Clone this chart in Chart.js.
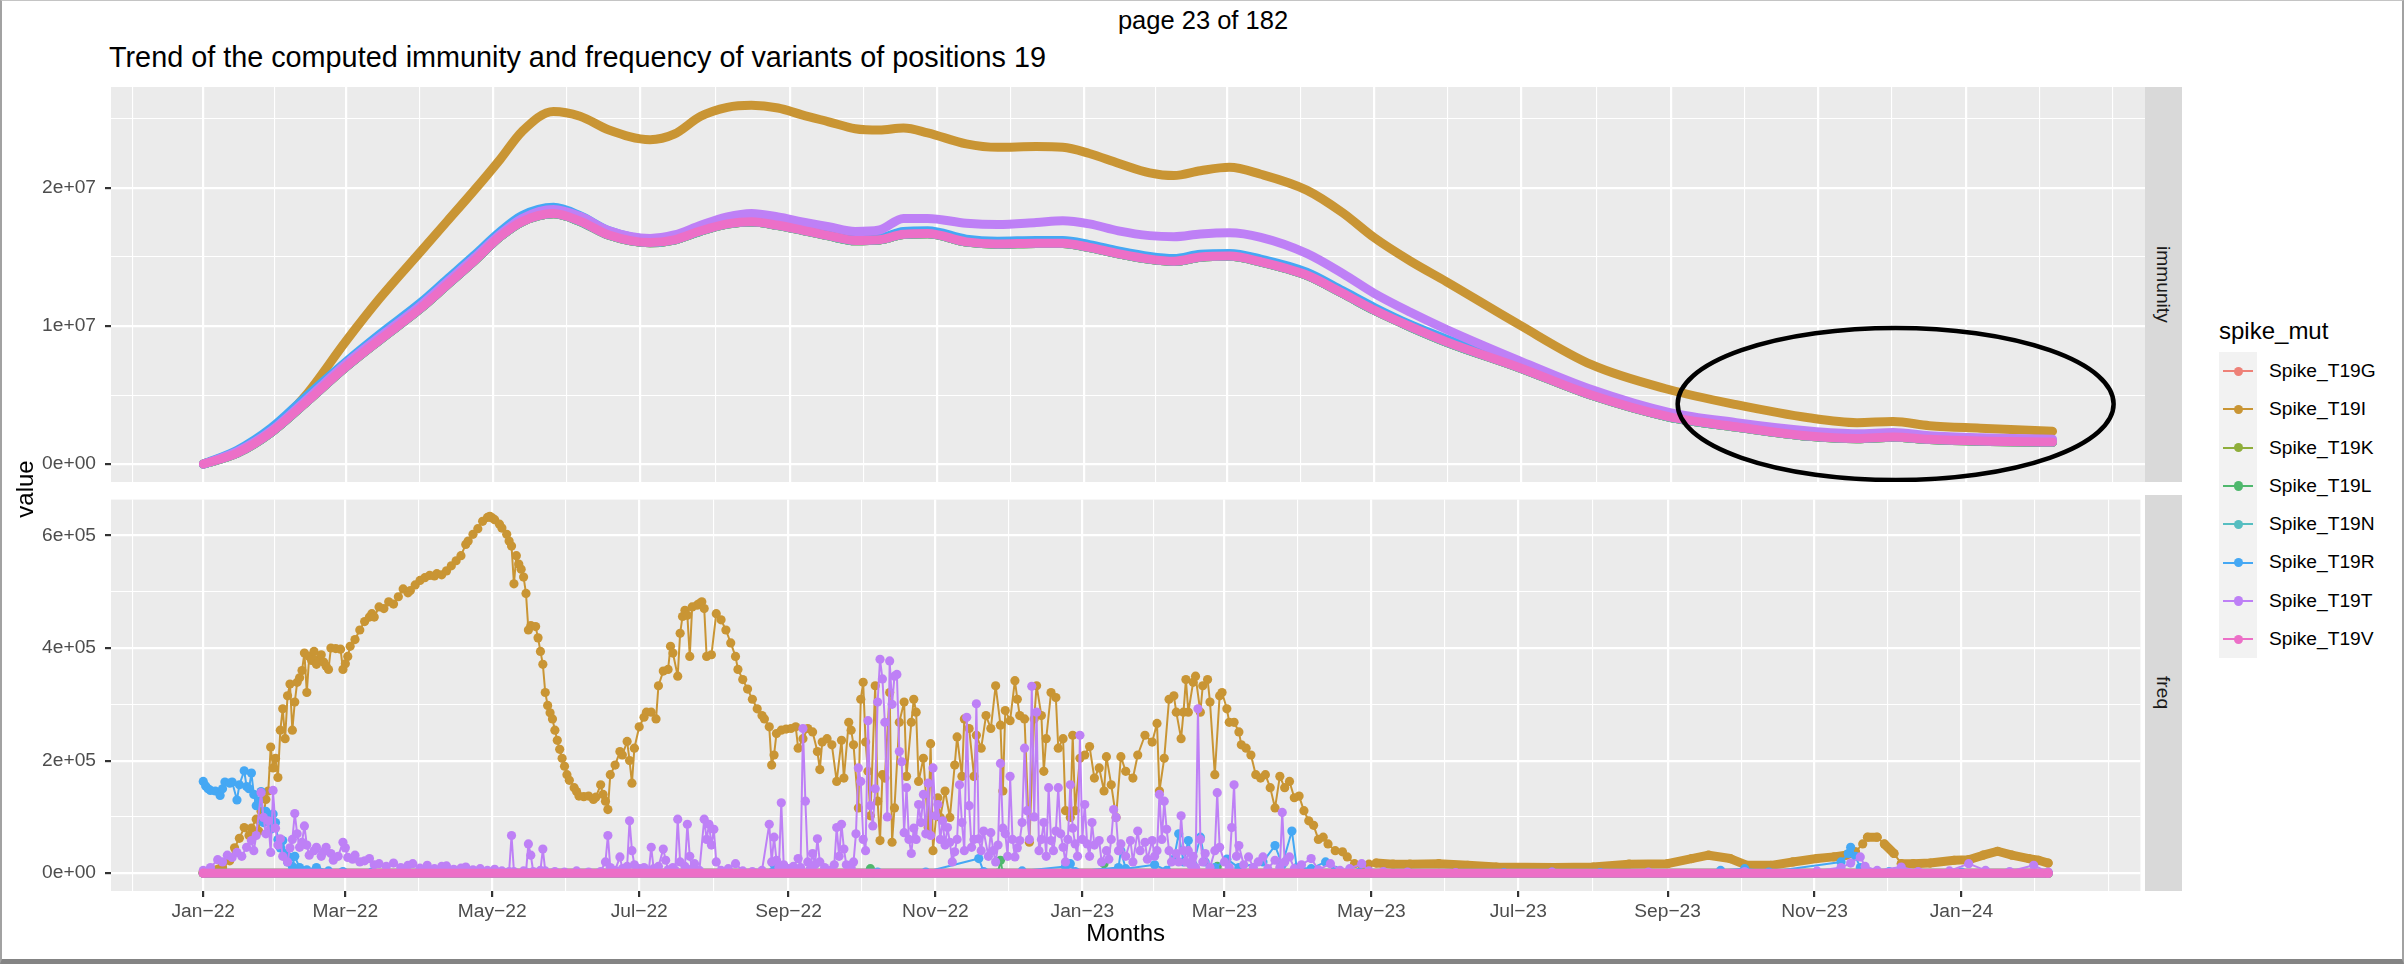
<!DOCTYPE html>
<html>
<head>
<meta charset="utf-8">
<script src="https://cdn.jsdelivr.net/npm/chart.js@4.4.1/dist/chart.umd.min.js"></script>
<style>
  html, body { margin: 0; padding: 0; background: #fff; }
  #page { position: relative; width: 2404px; height: 964px; overflow: hidden; background: #fff;
          font-family: "Liberation Sans", Arial, Helvetica, sans-serif; color: #000; }
  .txt { position: absolute; white-space: nowrap; line-height: 1; }
  canvas { position: absolute; left: 0; }
  .strip { position: absolute; left: 2145px; width: 37px; background: #D9D9D9; display: flex;
           align-items: center; justify-content: center; }
  .strip span { writing-mode: vertical-rl; font-size: 19.2px; color: #1A1A1A; line-height: 1; }
  #legend { position: absolute; left: 2219px; top: 352px; }
  .lrow { height: 38.3px; position: relative; }
  .lkey { position: absolute; left: 0; top: 0; width: 38.3px; height: 38.3px; background: #F2F2F2; }
  .lline { position: absolute; left: 4px; top: 18.2px; width: 30px; height: 2px; }
  .ldot { position: absolute; left: 14.5px; top: 14.5px; width: 9.4px; height: 9.4px; border-radius: 50%; }
  .ltxt { position: absolute; left: 50px; top: 0; line-height: 38.3px; font-size: 19.2px; white-space: nowrap; }
  #frame { position: absolute; left: 0; top: 0; width: 2404px; height: 964px; box-sizing: border-box;
           border-left: 2px solid #a2a2a2; border-top: 1px solid #c4c4c4; border-right: 2px solid #a2a2a2;
           border-bottom: 5px solid #848484; pointer-events: none; }
</style>
</head>
<body>
<div id="page">
  <div class="txt" style="left:1203px; top:8px; font-size:25.5px; transform:translateX(-50%);">page 23 of 182</div>
  <div class="txt" style="left:109px; top:43px; font-size:28.8px;">Trend of the computed immunity and frequency of variants of positions 19</div>
  <canvas id="cImm" width="2145" height="395" style="top:87px"></canvas>
  <canvas id="cFreq" width="2145" height="456" style="top:495px"></canvas>
  <div class="strip" style="top:87px; height:395px;"><span>immunity</span></div>
  <div class="strip" style="top:495px; height:396px;"><span>freq</span></div>
  <div class="txt" style="left:25px; top:489px; font-size:24px; writing-mode:vertical-rl; transform:translate(-50%,-50%) rotate(180deg);">value</div>
  <div class="txt" style="left:2219px; top:319px; font-size:24px;">spike_mut</div>
  <div id="legend"></div>
  <div id="frame"></div>
</div>
<script>
/* ---------------- data (days counted from 2022-01-01) ---------------- */

const variants = ["Spike_T19G", "Spike_T19I", "Spike_T19K", "Spike_T19L",
                  "Spike_T19N", "Spike_T19R", "Spike_T19T", "Spike_T19V"];
const colors = ["#EE8178", "#C99534", "#8FAE3B", "#4FB86D",
                "#56BEC1", "#45A8F4", "#BE80F6", "#EC6FC7"];

const xTickDates = ["2022-01-01", "2022-03-01", "2022-05-01", "2022-07-01", "2022-09-01", "2022-11-01",
                    "2023-01-01", "2023-03-01", "2023-05-01", "2023-07-01", "2023-09-01", "2023-11-01", "2024-01-01"];
const xTickLabels = ["Jan\u221222", "Mar\u221222", "May\u221222", "Jul\u221222", "Sep\u221222", "Nov\u221222",
                     "Jan\u221223", "Mar\u221223", "May\u221223", "Jul\u221223", "Sep\u221223", "Nov\u221223", "Jan\u221224"];

const immTicks = [0, 1e7, 2e7];
const immTickLabels = ["0e+00", "1e+07", "2e+07"];
const immMinor = [5e6, 1.5e7, 2.5e7];
const freqTicks = [0, 2e5, 4e5, 6e5];
const freqTickLabels = ["0e+00", "2e+05", "4e+05", "6e+05"];
const freqMinor = [1e5, 3e5, 5e5];

// immunity panel: shared day grid
const immDays = [0, 14, 28, 42, 59, 73, 90, 101, 112, 123, 132, 145, 156, 168, 185, 195, 206, 217, 227, 238,
                 248, 259, 270, 280, 290, 300, 316, 329, 345, 356, 367, 379, 392, 402, 413, 425, 438, 457, 472, 485,
                 500, 515, 545, 575, 607, 635, 665, 685, 700, 715, 736, 766];

const immI = [0, 0.9e6, 2.45e6, 4.9e6, 8.9e6, 1.2e7, 1.54e7, 1.76e7, 1.98e7, 2.21e7,
              2.41e7, 2.555e7, 2.52e7, 2.42e7, 2.35e7, 2.39e7, 2.52e7, 2.585e7, 2.60e7, 2.58e7,
              2.53e7, 2.48e7, 2.43e7, 2.42e7, 2.435e7, 2.40e7, 2.32e7, 2.295e7, 2.30e7, 2.295e7,
              2.25e7, 2.18e7, 2.11e7, 2.09e7, 2.125e7, 2.15e7, 2.10e7, 1.985e7, 1.82e7, 1.64e7,
              1.47e7, 1.32e7, 1.01e7, 7.2e6, 5.4e6, 4.3e6, 3.35e6, 3.0e6, 3.08e6, 2.78e6, 2.6e6, 2.38e6];

const immR = [0, 1.0e6, 2.6e6, 4.8e6, 7.4e6, 9.4e6, 1.17e7, 1.34e7, 1.51e7, 1.685e7,
              1.80e7, 1.86e7, 1.80e7, 1.69e7, 1.63e7, 1.65e7, 1.72e7, 1.77e7, 1.79e7, 1.765e7,
              1.725e7, 1.685e7, 1.65e7, 1.64e7, 1.685e7, 1.69e7, 1.63e7, 1.615e7, 1.62e7, 1.62e7,
              1.59e7, 1.545e7, 1.505e7, 1.49e7, 1.52e7, 1.525e7, 1.485e7, 1.39e7, 1.255e7, 1.135e7,
              1.01e7, 9.05e6, 7.15e6, 5.15e6, 3.55e6, 2.8e6, 2.12e6, 1.95e6, 2.05e6, 1.87e6, 1.75e6, 1.68e6];

const immT = [0, 9e5, 2.4e6, 4.55e6, 7.25e6, 9.2e6, 1.15e7, 1.32e7, 1.49e7, 1.665e7,
              1.78e7, 1.845e7, 1.795e7, 1.69e7, 1.635e7, 1.66e7, 1.73e7, 1.79e7, 1.815e7, 1.79e7,
              1.755e7, 1.72e7, 1.685e7, 1.696e7, 1.78e7, 1.78e7, 1.745e7, 1.735e7, 1.75e7, 1.763e7,
              1.74e7, 1.69e7, 1.655e7, 1.647e7, 1.667e7, 1.676e7, 1.643e7, 1.527e7, 1.38e7, 1.237e7,
              1.10e7, 9.75e6, 7.5e6, 5.4e6, 3.75e6, 3.0e6, 2.4e6, 2.2e6, 2.28e6, 2.05e6, 1.9e6, 1.8e6];

const immV = [0, 8e5, 2.3e6, 4.4e6, 7.05e6, 9.0e6, 1.13e7, 1.30e7, 1.47e7, 1.65e7,
              1.757e7, 1.815e7, 1.76e7, 1.66e7, 1.605e7, 1.625e7, 1.69e7, 1.74e7, 1.756e7, 1.73e7,
              1.695e7, 1.655e7, 1.62e7, 1.625e7, 1.665e7, 1.67e7, 1.61e7, 1.595e7, 1.60e7, 1.60e7,
              1.57e7, 1.525e7, 1.485e7, 1.47e7, 1.50e7, 1.507e7, 1.466e7, 1.37e7, 1.237e7, 1.116e7,
              9.95e6, 8.85e6, 7.0e6, 5.0e6, 3.43e6, 2.7e6, 2.03e6, 1.86e6, 1.96e6, 1.79e6, 1.67e6, 1.6e6];

// G, K, L, N sit under the T19V band
const immRest = [0, 7.8e5, 2.28e6, 4.38e6, 7.02e6, 8.98e6, 1.128e7, 1.298e7, 1.468e7, 1.648e7,
                 1.755e7, 1.813e7, 1.758e7, 1.658e7, 1.603e7, 1.623e7, 1.688e7, 1.738e7, 1.754e7, 1.728e7,
                 1.693e7, 1.653e7, 1.618e7, 1.623e7, 1.663e7, 1.668e7, 1.608e7, 1.593e7, 1.598e7, 1.598e7,
                 1.568e7, 1.523e7, 1.483e7, 1.468e7, 1.498e7, 1.505e7, 1.464e7, 1.368e7, 1.235e7, 1.114e7,
                 9.93e6, 8.83e6, 6.98e6, 4.98e6, 3.41e6, 2.68e6, 2.01e6, 1.84e6, 1.94e6, 1.77e6, 1.65e6, 1.58e6];

// freq panel: [day, value]
const freqI = [[0,2e3],[4,4e3],[8,10e3],[11,22e3],[13,45e3],[15,62e3],[17,81e3],[19,67e3],[20,80e3],[22,96e3],
  [23,75e3],[24,110e3],[25,100e3],[26,131e3],[27,146e3],[28,224e3],[29,187e3],[30,204e3],[31,170e3],[32,254e3],
  [33,292e3],[34,239e3],[35,315e3],[36,336e3],[37,254e3],[38,304e3],[39,339e3],[40,347e3],[41,360e3],[42,391e3],
  [43,321e3],[44,385e3],[45,378e3],[46,394e3],[47,371e3],[48,380e3],[49,388e3],[50,375e3],[51,368e3],[52,362e3],
  [53,400e3],[55,399e3],[57,398e3],[58,362e3],[59,372e3],[60,385e3],[61,403e3],[63,415e3],[65,432e3],[67,447e3],
  [69,455e3],[70,461e3],[71,455e3],[73,473e3],[75,470e3],[77,482e3],[79,478e3],[81,491e3],[83,505e3],[85,498e3],
  [86,502e3],[88,512e3],[90,520e3],[92,525e3],[94,529e3],[96,528e3],[97,532e3],[99,530e3],[101,537e3],[103,546e3],
  [105,555e3],[107,564e3],[109,584e3],[110,590e3],[112,602e3],[114,612e3],[116,625e3],[118,632e3],[119,634e3],[120,631e3],
  [121,628e3],[123,620e3],[124,613e3],[126,602e3],[127,590e3],[128,581e3],[129,514e3],[130,564e3],[131,549e3],[132,540e3],
  [133,526e3],[134,497e3],[135,432e3],[136,440e3],[138,438e3],[139,418e3],[140,394e3],[141,371e3],[142,321e3],[143,298e3],
  [144,285e3],[145,274e3],[146,254e3],[147,236e3],[148,220e3],[149,204e3],[150,190e3],[151,175e3],[152,165e3],[154,152e3],
  [155,145e3],[156,137e3],[158,136e3],[160,137e3],[162,131e3],[163,135e3],[165,157e3],[166,140e3],[167,128e3],[168,113e3],
  [169,175e3],[171,192e3],[173,216e3],[174,210e3],[176,234e3],[177,200e3],[178,160e3],[179,222e3],[181,260e3],[183,277e3],
  [184,286e3],[186,286e3],[188,274e3],[189,333e3],[191,359e3],[193,362e3],[194,403e3],[195,391e3],[197,350e3],[198,426e3],
  [199,456e3],[200,467e3],[201,458e3],[202,385e3],[203,473e3],[205,476e3],[206,479e3],[207,482e3],[208,470e3],[209,385e3],
  [211,388e3],[213,461e3],[215,450e3],[217,432e3],[219,409e3],[221,385e3],[222,362e3],[224,344e3],[226,327e3],[228,309e3],
  [230,292e3],[232,280e3],[233,274e3],[235,260e3],[236,192e3],[237,210e3],[238,248e3],[240,254e3],[242,256e3],[244,257e3],
  [246,260e3],[247,222e3],[249,239e3],[251,257e3],[253,251e3],[255,216e3],[256,184e3],[257,233e3],[259,239e3],[261,228e3],
  [263,163e3],[265,236e3],[266,169e3],[268,268e3],[269,254e3],[270,228e3],[272,116e3],[273,309e3],[274,339e3],[275,233e3],
  [276,181e3],[277,102e3],[279,333e3],[280,128e3],[281,58e3],[282,175e3],[283,169e3],[285,321e3],[286,55e3],[287,116e3],
  [289,268e3],[291,304e3],[292,172e3],[294,268e3],[295,309e3],[296,286e3],[297,163e3],[299,204e3],[301,81e3],[302,230e3],
  [303,40e3],[305,134e3],[306,99e3],[308,146e3],[310,99e3],[312,192e3],[313,242e3],[315,172e3],[316,274e3],[318,257e3],
  [320,172e3],[321,245e3],[323,222e3],[325,280e3],[327,257e3],[329,333e3],[331,263e3],[332,146e3],[333,289e3],[335,271e3],
  [337,342e3],[338,309e3],[339,280e3],[341,274e3],[343,55e3],[345,274e3],[346,333e3],[348,280e3],[349,181e3],[350,239e3],
  [352,321e3],[354,312e3],[355,222e3],[357,239e3],[358,111e3],[360,99e3],[361,245e3],[362,111e3],[364,204e3],[366,210e3],
  [368,225e3],[370,169e3],[372,187e3],[374,146e3],[375,207e3],[377,157e3],[379,99e3],[381,207e3],[383,181e3],[386,169e3],
  [388,210e3],[391,245e3],[394,233e3],[396,266e3],[397,146e3],[399,204e3],[401,309e3],[403,315e3],[404,286e3],[406,239e3],
  [407,286e3],[408,344e3],[409,286e3],[411,339e3],[412,350e3],[414,286e3],[415,333e3],[417,344e3],[418,304e3],[420,175e3],
  [422,315e3],[423,321e3],[425,292e3],[426,268e3],[428,268e3],[430,251e3],[431,228e3],[433,222e3],[435,210e3],[437,175e3],
  [439,169e3],[441,175e3],[443,152e3],[445,116e3],[447,172e3],[449,152e3],[451,163e3],[453,134e3],[455,137e3],[457,111e3],
  [459,93e3],[461,85e3],[463,60e3],[465,64e3],[467,52e3],[470,40e3],[473,38e3],[475,29e3],[478,17e3],[481,14e3],
  [484,16e3],[487,18e3],[494,16e3],[501,16e3],[513,17e3],[525,14e3],[537,11e3],[561,10e3],[577,11e3],[592,16e3],
  [608,17e3],[618,26e3],[625,32e3],[634,26e3],[641,14e3],[651,14e3],[660,20e3],[670,26e3],[677,29e3],[682,32e3],
  [686,38e3],[689,52e3],[691,64e3],[695,64e3],[698,52e3],[702,35e3],[705,17e3],[710,17e3],[717,18e3],[727,23e3],
  [733,24e3],[739,32e3],[745,39e3],[751,32e3],[758,26e3],[762,23e3],[766,18e3]];

const freqT = [[0,5e3],[3,10e3],[6,24e3],[8,20e3],[10,32e3],[12,28e3],[14,37e3],[16,30e3],[18,46e3],[20,58e3],
  [21,40e3],[22,67e3],[24,143e3],[25,99e3],[26,70e3],[27,93e3],[28,37e3],[29,147e3],[30,80e3],[31,50e3],
  [32,61e3],[33,30e3],[35,20e3],[36,45e3],[37,60e3],[38,106e3],[39,70e3],[40,46e3],[41,55e3],[42,84e3],
  [43,50e3],[44,32e3],[46,40e3],[47,46e3],[49,30e3],[50,38e3],[51,46e3],[53,35e3],[54,23e3],[56,30e3],
  [58,55e3],[59,45e3],[60,28e3],[62,25e3],[63,32e3],[65,20e3],[67,22e3],[69,26e3],[71,15e3],[73,17e3],
  [76,12e3],[79,18e3],[82,10e3],[85,14e3],[87,17e3],[90,9e3],[93,14e3],[96,8e3],[99,12e3],[101,13e3],
  [104,7e3],[107,9e3],[109,11e3],[112,6e3],[115,8e3],[118,5e3],[121,7e3],[124,4e3],[127,3e3],[128,67e3],
  [129,3e3],[133,4e3],[134,2e3],[135,52e3],[136,32e3],[137,3e3],[140,5e3],[141,43e3],[142,4e3],[146,3e3],
  [150,2e3],[155,4e3],[160,2e3],[165,3e3],[167,20e3],[168,67e3],[169,10e3],[171,5e3],[173,29e3],[174,8e3],
  [176,12e3],[177,93e3],[178,40e3],[179,15e3],[181,8e3],[183,10e3],[185,5e3],[186,46e3],[187,8e3],[189,12e3],
  [191,43e3],[192,23e3],[193,6e3],[195,10e3],[196,5e3],[197,96e3],[198,20e3],[200,12e3],[201,87e3],[202,30e3],
  [203,8e3],[204,17e3],[206,5e3],[208,96e3],[209,60e3],[210,87e3],[211,50e3],[212,78e3],[213,20e3],[215,5e3],
  [218,8e3],[221,17e3],[224,4e3],[228,3e3],[232,5e3],[235,87e3],[236,20e3],[237,64e3],[238,23e3],[239,10e3],
  [240,125e3],[241,15e3],[243,8e3],[245,12e3],[247,26e3],[248,10e3],[249,257e3],[250,128e3],[251,20e3],[252,8e3],
  [253,35e3],[254,15e3],[255,61e3],[256,20e3],[258,10e3],[260,5e3],[262,15e3],[263,81e3],[264,30e3],[265,87e3],
  [266,43e3],[267,15e3],[269,10e3],[270,20e3],[271,70e3],[272,187e3],[273,163e3],[274,60e3],[275,40e3],[276,271e3],
  [277,120e3],[278,84e3],[279,150e3],[280,304e3],[281,380e3],[282,345e3],[283,268e3],[284,100e3],[285,377e3],[286,300e3],
  [287,350e3],[288,353e3],[289,216e3],[290,198e3],[291,72e3],[292,152e3],[293,60e3],[294,35e3],[295,80e3],[296,60e3],
  [297,122e3],[298,90e3],[299,140e3],[300,70e3],[301,160e3],[302,67e3],[303,187e3],[304,102e3],[305,122e3],[306,60e3],
  [307,93e3],[308,50e3],[309,81e3],[310,55e3],[311,20e3],[312,38e3],[313,60e3],[314,157e3],[315,90e3],[316,40e3],
  [317,277e3],[318,120e3],[319,46e3],[320,60e3],[321,301e3],[322,61e3],[323,40e3],[324,75e3],[326,30e3],[327,72e3],
  [328,40e3],[329,20e3],[330,50e3],[331,195e3],[332,80e3],[333,70e3],[334,30e3],[335,172e3],[336,60e3],[337,29e3],
  [338,45e3],[339,58e3],[340,90e3],[341,222e3],[342,111e3],[343,60e3],[344,332e3],[345,100e3],[346,286e3],[347,40e3],
  [348,60e3],[349,90e3],[350,30e3],[351,152e3],[352,58e3],[353,40e3],[354,75e3],[355,152e3],[356,70e3],[357,46e3],
  [358,20e3],[359,60e3],[360,157e3],[361,80e3],[362,52e3],[363,30e3],[364,245e3],[365,60e3],[366,122e3],[367,52e3],
  [368,30e3],[369,90e3],[370,50e3],[372,58e3],[373,20e3],[375,40e3],[376,25e3],[377,60e3],[378,113e3],[379,99e3],
  [380,40e3],[381,52e3],[383,30e3],[385,58e3],[386,20e3],[388,75e3],[389,40e3],[391,55e3],[392,25e3],[394,58e3],
  [395,30e3],[396,40e3],[397,140e3],[398,60e3],[399,128e3],[400,78e3],[401,40e3],[402,20e3],[404,35e3],[405,20e3],
  [406,102e3],[407,40e3],[408,20e3],[409,40e3],[410,15e3],[411,30e3],[412,10e3],[413,292e3],[414,60e3],[415,20e3],
  [416,35e3],[418,10e3],[420,40e3],[421,143e3],[422,46e3],[424,20e3],[426,10e3],[427,81e3],[428,157e3],[429,30e3],
  [430,49e3],[432,15e3],[434,29e3],[436,10e3],[438,20e3],[440,29e3],[442,8e3],[445,23e3],[447,10e3],[448,108e3],
  [449,20e3],[451,29e3],[453,8e3],[456,15e3],[460,26e3],[463,6e3],[468,17e3],[472,5e3],[476,8e3],[481,17e3],
  [484,4e3],[490,3e3],[500,2e3],[520,1e3],[560,2e3],[600,2e3],[640,3e3],[670,4e3],[680,10e3],[684,18e3],
  [688,29e3],[690,12e3],[695,5e3],[705,11e3],[712,3e3],[725,4e3],[733,17e3],[740,5e3],[750,3e3],[760,14e3],[766,2e3]];

const freqR = [[0,163e3],[1,155e3],[2,150e3],[3,147e3],[5,146e3],[7,138e3],[8,150e3],[9,162e3],[11,160e3],[12,162e3],
  [14,130e3],[15,157e3],[17,182e3],[18,154e3],[19,150e3],[20,178e3],[21,140e3],[22,120e3],[23,128e3],[24,145e3],
  [25,90e3],[26,110e3],[27,102e3],[28,78e3],[29,105e3],[30,90e3],[31,60e3],[32,45e3],[33,58e3],[34,35e3],
  [35,20e3],[36,28e3],[37,12e3],[38,30e3],[40,10e3],[43,6e3],[47,10e3],[52,4e3],[58,3e3],[70,2e3],
  [100,1e3],[150,1e3],[200,1e3],[236,1e3],[237,15e3],[238,1e3],[280,2e3],[300,2e3],[322,26e3],[324,3e3],
  [340,4e3],[358,12e3],[360,17e3],[362,3e3],[380,10e3],[381,40e3],[383,8e3],[395,15e3],[400,5e3],[403,25e3],
  [405,70e3],[407,20e3],[409,58e3],[411,15e3],[414,64e3],[416,20e3],[420,10e3],[425,25e3],[430,10e3],[440,20e3],
  [445,49e3],[448,15e3],[452,75e3],[454,10e3],[460,8e3],[466,20e3],[470,5e3],[480,2e3],[500,1e3],[540,1e3],
  [560,2e3],[580,1e3],[630,5e3],[640,8e3],[650,2e3],[680,20e3],[683,35e3],[684,46e3],[686,30e3],[688,10e3],
  [700,3e3],[730,2e3],[766,1e3]];

const freqL = [[0,0],[276,0],[277,8e3],[278,0],[330,0],[331,23e3],[332,0],[373,0],[374,17e3],[375,0],
  [420,0],[421,12e3],[422,0],[766,0]];
const freqG = [[0,0],[766,0]];
const freqK = [[0,0],[766,0]];
const freqN = [[0,0],[766,0]];
const freqV = [[0,0],[766,0]];

// hand-drawn ellipse note on the immunity panel (data coordinates)
const ellipseNote = { day: 701, value: 4.35e6, halfDays: 90.3, halfValue: 5.51e6 };

/* ---------------- helpers ---------------- */

const FONT = '"Liberation Sans", Arial, Helvetica, sans-serif';
const xRange = [-38.3, 804.3];
const immRange = [-1.3e6, 2.732e7];
const freqRange = [-3.16e4, 6.636e5];

// series whose daily dots merge into a solid band where sampling is sparse
const bandStyle = [true, true, true, false, true, false, false, true];

function dayOf(s) {
    return (Date.parse(s + "T00:00:00Z") - Date.parse("2022-01-01T00:00:00Z")) / 864e5;
}
function gridPairs(days, vals) {
    return days.map((d, i) => ({ x: d, y: vals[i] }));
}
function listPairs(list) {
    return list.map(p => ({ x: p[0], y: p[1] }));
}

// major breaks + ggplot style minor breaks (midpoints, plus the extended ends)
function buildXTicks() {
    const major = xTickDates.map(dayOf);
    const ext = [major[0] - (major[1] - major[0])].concat(major,
                 [major[major.length - 1] + (major[major.length - 1] - major[major.length - 2])]);
    const out = [];
    for (let i = 0; i < ext.length; i++) {
        const mi = major.indexOf(ext[i]);
        out.push({ value: ext[i], lbl: mi >= 0 ? xTickLabels[mi] : "" });
        if (i < ext.length - 1) out.push({ value: (ext[i] + ext[i + 1]) / 2, lbl: "" });
    }
    return out.filter(t => t.value >= xRange[0] && t.value <= xRange[1]);
}
function buildYTicks(major, labels, minor) {
    const out = major.map((v, i) => ({ value: v, lbl: labels[i] }))
        .concat(minor.map(v => ({ value: v, lbl: "" })));
    return out.sort((a, b) => a.value - b.value);
}

const panelBg = {
    id: "panelBg",
    beforeDraw(chart) {
        const { ctx, chartArea: a } = chart;
        ctx.save();
        ctx.fillStyle = "#EBEBEB";
        ctx.fillRect(a.left, a.top, a.right - a.left, a.bottom - a.top);
        ctx.restore();
    }
};

const ellipsePlugin = {
    id: "ellipseNote",
    afterDatasetsDraw(chart) {
        const { ctx } = chart;
        const xs = chart.scales.x, ys = chart.scales.y;
        const cx = xs.getPixelForValue(ellipseNote.day);
        const cy = ys.getPixelForValue(ellipseNote.value);
        const rx = xs.getPixelForValue(ellipseNote.day + ellipseNote.halfDays) - cx;
        const ry = cy - ys.getPixelForValue(ellipseNote.value + ellipseNote.halfValue);
        ctx.save();
        ctx.beginPath();
        ctx.ellipse(cx, cy, rx, ry, 0, 0, Math.PI * 2);
        ctx.lineWidth = 4.5;
        ctx.strokeStyle = "#000";
        ctx.stroke();
        ctx.restore();
    }
};

const gridWidth = ctx => (ctx.tick && ctx.tick.lbl ? 2.2 : 1.1);
const tickColor = ctx => (ctx.tick && ctx.tick.lbl ? "#333333" : "rgba(0,0,0,0)");

function xScale(showLabels) {
    return {
        type: "linear",
        min: xRange[0],
        max: xRange[1],
        afterBuildTicks: s => { s.ticks = buildXTicks(); },
        ticks: {
            display: showLabels, autoSkip: false, maxRotation: 0, minRotation: 0, padding: 3,
            color: "#4D4D4D", font: { family: FONT, size: 19.2 },
            callback: (v, i, t) => t[i].lbl
        },
        grid: { color: "#FFFFFF", lineWidth: gridWidth, drawTicks: showLabels, tickLength: 6,
                tickColor: tickColor, tickWidth: 2.2 },
        border: { display: false },
        title: { display: showLabels, text: "Months", color: "#000",
                 font: { family: FONT, size: 24 }, padding: { top: 0, bottom: 2 } },
        afterFit: s => { s.height = showLabels ? 60 : 0; s.paddingLeft = 0; s.paddingRight = 0; }
    };
}

function yScale(range, major, labels, minor) {
    return {
        type: "linear",
        min: range[0],
        max: range[1],
        afterBuildTicks: s => { s.ticks = buildYTicks(major, labels, minor); },
        ticks: { padding: 9, color: "#4D4D4D", font: { family: FONT, size: 19.2 },
                 callback: (v, i, t) => t[i].lbl },
        grid: { color: "#FFFFFF", lineWidth: gridWidth, tickLength: 6, tickColor: tickColor, tickWidth: 2.2 },
        border: { display: false },
        afterFit: s => { s.width = 111; s.paddingTop = 0; s.paddingBottom = 0; }
    };
}

const baseOptions = {
    responsive: false,
    animation: false,
    events: [],
    layout: { padding: 0 },
    plugins: { legend: { display: false }, tooltip: { enabled: false }, title: { display: false } }
};

/* ---------------- immunity panel ---------------- */

const immSeries = [immRest, immI, immRest, immRest, immRest, immR, immT, immV];

new Chart(document.getElementById("cImm"), {
    type: "line",
    data: {
        datasets: variants.map((name, i) => ({
            label: name,
            data: gridPairs(immDays, immSeries[i]),
            borderColor: colors[i],
            backgroundColor: colors[i],
            borderWidth: 9,
            borderCapStyle: "round",
            borderJoinStyle: "round",
            pointRadius: 0,
            cubicInterpolationMode: "monotone",
            fill: false,
            order: variants.length - i
        }))
    },
    options: Object.assign({}, baseOptions, {
        scales: {
            x: xScale(false),
            y: yScale(immRange, immTicks, immTickLabels, immMinor)
        }
    }),
    plugins: [panelBg, ellipsePlugin]
});

/* ---------------- freq panel ---------------- */

const freqSeries = [freqG, freqI, freqK, freqL, freqN, freqR, freqT, freqV];

new Chart(document.getElementById("cFreq"), {
    type: "line",
    data: {
        datasets: variants.map((name, i) => ({
            label: name,
            data: listPairs(freqSeries[i]),
            borderColor: colors[i],
            backgroundColor: colors[i],
            pointBackgroundColor: colors[i],
            borderWidth: 2,
            borderCapStyle: "round",
            borderJoinStyle: "round",
            segment: {
                borderWidth: ctx => (bandStyle[i] && ctx.p1.parsed.x - ctx.p0.parsed.x > 3 ? 9 : 2)
            },
            pointRadius: 4.6,
            pointBorderWidth: 0,
            tension: 0,
            fill: false,
            order: variants.length - i
        }))
    },
    options: Object.assign({}, baseOptions, {
        scales: {
            x: xScale(true),
            y: yScale(freqRange, freqTicks, freqTickLabels, freqMinor)
        }
    }),
    plugins: [panelBg]
});

/* ---------------- legend ---------------- */

const legendEl = document.getElementById("legend");
variants.forEach((name, i) => {
    const row = document.createElement("div");
    row.className = "lrow";
    row.innerHTML =
        `<div class="lkey"><div class="lline" style="background:${colors[i]}"></div>` +
        `<div class="ldot" style="background:${colors[i]}"></div></div>` +
        `<span class="ltxt">${name}</span>`;
    legendEl.appendChild(row);
});
</script>
</body>
</html>
